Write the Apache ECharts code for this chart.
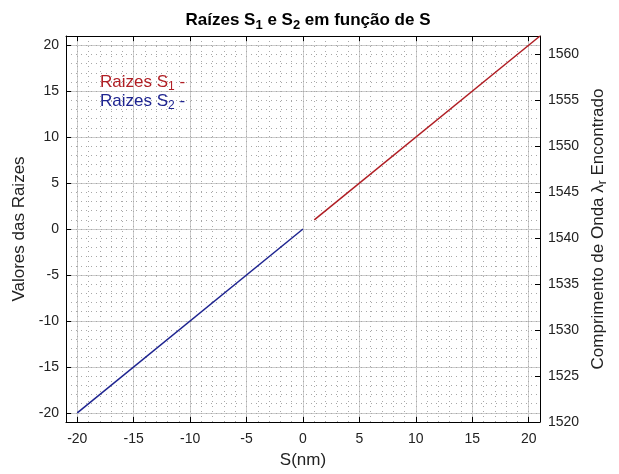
<!DOCTYPE html>
<html>
<head>
<meta charset="utf-8">
<script src="https://cdn.jsdelivr.net/npm/echarts@6/dist/echarts.min.js"></script>
<style>
  html, body { margin: 0; padding: 0; background: #fff; }
  #chart { width: 619px; height: 474px; }
</style>
</head>
<body>
<div id="chart"></div>
<script>
// dados
const sRaiz1 = [1, 21];
const valRaiz1 = [1, 21];
const sRaiz2 = [-20, 0];
const valRaiz2 = [-20, 0];

// marcas dos eixos
const xTicks = [-20, -15, -10, -5, 0, 5, 10, 15, 20];
const yTicks = [-20, -15, -10, -5, 0, 5, 10, 15, 20];
const lambdaTicks = [1520, 1525, 1530, 1535, 1540, 1545, 1550, 1555, 1560];

const fonte = 'Liberation Sans, Arial, sans-serif';
const corVermelha = '#b01e24';
const corAzul = '#1e2490';
const corGrade = '#cccccc';
const corGradeMenor = '#a8a8a8';

const chart = echarts.init(document.getElementById('chart'));

const pares = (xs, ys) => xs.map((x, i) => [x, ys[i]]);

// eixo de grade secundária (pontilhada), sem rótulos
function gradeMenor(pos, min, max) {
    return {
        type: 'value', position: pos, min: min, max: max, interval: 1,
        axisLine: { show: false }, axisTick: { show: false }, axisLabel: { show: false },
        splitLine: { show: true, lineStyle: { color: corGradeMenor, width: 1, type: [1, 4] } }
    };
}

chart.setOption({
    animation: false,
    textStyle: { fontFamily: fonte },
    title: {
        text: '{b|Raízes S}{s|1}{b| e S}{s|2}{b| em função de S}',
        left: 303,
        textAlign: 'center',
        top: 4,
        textStyle: {
            rich: {
                b: { fontFamily: fonte, fontSize: 17, fontWeight: 'bold', color: '#000', lineHeight: 22 },
                s: { fontFamily: fonte, fontSize: 13, fontWeight: 'bold', color: '#000', padding: [10, 0, 0, 0] }
            }
        }
    },
    legend: {
        orient: 'vertical',
        left: 90,
        top: 69,
        itemWidth: 0,
        itemHeight: 0,
        itemGap: 0,
        icon: 'none',
        selectedMode: false,
        data: ['S1', 'S2'],
        formatter: function (name) {
            return name === 'S1'
                ? '{r|Raizes S}{rs|1}{r| -}'
                : '{a|Raizes S}{as|2}{a| -}';
        },
        textStyle: {
            rich: {
                r: { fontFamily: fonte, fontSize: 17, color: corVermelha, lineHeight: 18 },
                rs: { fontFamily: fonte, fontSize: 12, color: corVermelha, padding: [9, 0, 0, 0] },
                a: { fontFamily: fonte, fontSize: 17, color: corAzul, lineHeight: 18 },
                as: { fontFamily: fonte, fontSize: 12, color: corAzul, padding: [9, 0, 0, 0] }
            }
        }
    },
    grid: { left: 66, right: 79, top: 36, bottom: 52, containLabel: false },
    xAxis: [
        {
            type: 'value', position: 'bottom', min: -21, max: 21,
            name: 'S(nm)', nameLocation: 'middle', nameGap: 30,
            nameTextStyle: { fontFamily: fonte, fontSize: 17, color: '#222' },
            axisLine: { onZero: false, lineStyle: { color: '#000', width: 1 } },
            axisTick: { inside: true, length: 5, customValues: xTicks, lineStyle: { color: '#000' } },
            axisLabel: { customValues: xTicks, fontSize: 14, color: '#222', margin: 10 },
            splitLine: { show: true, lineStyle: { color: corGrade, width: 1 } }
        },
        {
            type: 'value', position: 'top', min: -21, max: 21,
            axisLine: { onZero: false, lineStyle: { color: '#000', width: 1 } },
            axisTick: { inside: true, length: 5, customValues: xTicks, lineStyle: { color: '#000' } },
            axisLabel: { show: false },
            splitLine: { show: false }
        },
        gradeMenor('bottom', -21, 21)
    ],
    yAxis: [
        {
            type: 'value', position: 'left', min: -21, max: 21,
            name: 'Valores das Raizes', nameLocation: 'middle', nameGap: 31, nameRotate: 90,
            nameTextStyle: { fontFamily: fonte, fontSize: 17, color: '#222' },
            axisLine: { onZero: false, lineStyle: { color: '#000', width: 1 } },
            axisTick: { inside: true, length: 5, customValues: yTicks, lineStyle: { color: '#000' } },
            axisLabel: { customValues: yTicks, fontSize: 14, color: '#222', margin: 7 },
            splitLine: { show: true, lineStyle: { color: corGrade, width: 1 } }
        },
        {
            type: 'value', position: 'right', min: 1520, max: 1562,
            name: '{n|Comprimento de Onda λ}{s|r}{n| Encontrado}',
            nameLocation: 'middle', nameGap: 48, nameRotate: 90,
            nameTextStyle: {
                rich: {
                    n: { fontFamily: fonte, fontSize: 17, color: '#222', lineHeight: 20 },
                    s: { fontFamily: fonte, fontSize: 12, color: '#222', padding: [9, 0, 0, 0] }
                }
            },
            axisLine: { onZero: false, lineStyle: { color: '#000', width: 1 } },
            axisTick: { inside: true, length: 5, customValues: lambdaTicks, lineStyle: { color: '#000' } },
            axisLabel: { customValues: lambdaTicks, fontSize: 14, color: '#222', margin: 8, formatter: v => String(v) },
            splitLine: { show: false }
        },
        gradeMenor('left', -21, 21)
    ],
    series: [
        {
            name: 'S1', type: 'line', xAxisIndex: 0, yAxisIndex: 0,
            data: pares(sRaiz1, valRaiz1),
            showSymbol: false, silent: true,
            lineStyle: { color: corVermelha, width: 1.5 },
            itemStyle: { color: corVermelha }
        },
        {
            name: 'S2', type: 'line', xAxisIndex: 0, yAxisIndex: 0,
            data: pares(sRaiz2, valRaiz2),
            showSymbol: false, silent: true,
            lineStyle: { color: corAzul, width: 1.5 },
            itemStyle: { color: corAzul }
        }
    ]
});
</script>
</body>
</html>
